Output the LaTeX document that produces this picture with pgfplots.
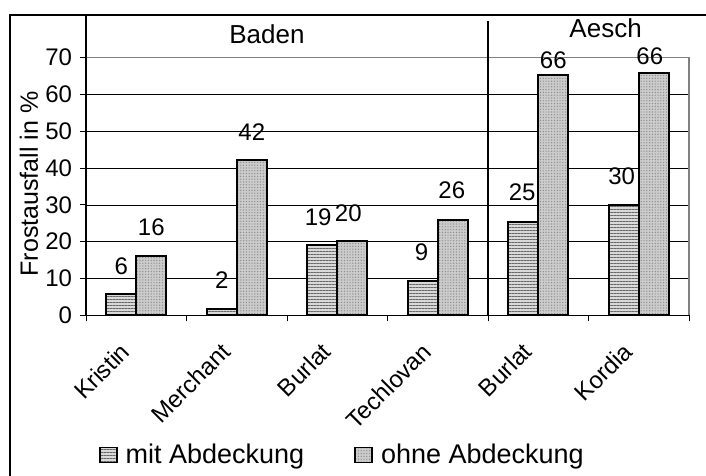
\documentclass[border=0pt]{standalone}
\usepackage{pgfplots}
\pgfplotsset{compat=1.18}
\usepackage{pgfplotstable}
\usepackage{fontspec}
\setmainfont{Liberation Sans}
\usetikzlibrary{patterns.meta}

\pgfplotstableread{
x mit ohne
0 5.8 16.2
1 1.7 42.2
2 19.0 20.2
3 9.3 25.9
4 25.4 65.3
5 30.0 65.9
}\frostdata

\pgfplotstableread{
x y label
-0.15 13.4 6
0.15 24.0 16
0.85 9.6 2
1.15 49.8 42
1.81 26.7 19
2.11 27.8 20
2.84 17.2 9
3.14 34.0 26
3.84 33.5 25
4.15 69.4 66
4.83 37.9 30
5.11 70.5 66
}\labeldata

\begin{document}
\begin{tikzpicture}
\useasboundingbox (0,0) rectangle (353bp,238bp);
\draw[line width=0.8bp] (5bp,0) -- (5bp,230.5bp) -- (353bp,230.5bp);
\begin{axis}[
  at={(43bp,80.35bp)}, anchor=south west,
  scale only axis, width=301.5bp, height=128.8bp,
  xmin=-0.5, xmax=5.5, ymin=0, ymax=70,
  clip=false,
  axis x line*=bottom, axis y line*=left,
  axis line style={line width=0.7bp, -},
  xtick={0,...,5},
  xticklabels={Kristin,Merchant,Burlat,Techlovan,Burlat,Kordia},
  minor xtick={-0.5,0.5,...,5.5},
  every major x tick/.style={draw=none},
  ytick={0,10,...,70},
  tick align=outside, major tick length=3bp, minor tick length=3bp,
  tick style={black, line width=0.5bp},
  ymajorgrids, grid style={black, line width=0.4bp},
  /pgf/number format/assume math mode=true,
  ticklabel style={font=\fontsize{12bp}{14bp}\selectfont},
  yticklabel style={xshift=-0.5bp},
  xticklabel style={rotate=45, anchor=north east, inner sep=0pt, xshift=-13bp, yshift=-0.8bp, font=\fontsize{12bp}{14bp}\selectfont},
  ylabel={Frostausfall in \%},
  ylabel style={at={(axis description cs:-0.0945,0.51)}, anchor=center, rotate=0, font=\fontsize{12.5bp}{14bp}\selectfont},
  legend columns=2,
  legend style={draw=none, fill=none, at={(axis description cs:0.425,-0.542)}, anchor=center,
    font=\fontsize{13.5bp}{16bp}\selectfont,
    /tikz/every even column/.append style={column sep=24bp},
    nodes={inner xsep=1bp}},
  legend image code/.code={\draw[#1] (0bp,-3.75bp) rectangle (8.5bp,3.75bp); \path (11.5bp,0bp);},
]
\addplot[ybar, bar width=15bp, bar shift=-7.5bp, draw=black, line width=0.9bp, fill=black!15,
  postaction={pattern={Lines[angle=0,distance=1.5bp,line width=0.5bp]}, pattern color=black!60}]
  table[x=x, y=mit] {\frostdata};
\addlegendentry{mit Abdeckung}
\addplot[ybar, bar width=15bp, bar shift=7.5bp, draw=black, line width=0.9bp, fill=black!20,
  postaction={pattern={Dots[distance=1.4bp,radius=0.35bp]}, pattern color=black!45}]
  table[x=x, y=ohne] {\frostdata};
\addlegendentry{ohne Abdeckung}
\addplot[forget plot, only marks, mark=none, nodes near coords, point meta=explicit symbolic,
  nodes near coords style={anchor=center, inner sep=0pt, font=\fontsize{12bp}{14bp}\selectfont}]
  table[x=x, y=y, meta=label] {\labeldata};
\draw[gray, line width=0.6bp] (rel axis cs:0,1) -- (rel axis cs:1,1) -- (rel axis cs:1,0);
\draw[line width=0.7bp] (axis cs:-0.5,70) -- (axis cs:-0.5,81.6);
\draw[line width=0.7bp] (axis cs:3.5,0) -- (axis cs:3.5,80);
\node[font=\fontsize{13bp}{15bp}\selectfont] at (axis cs:1.3,76.4) {Baden};
\node[font=\fontsize{13bp}{15bp}\selectfont] at (axis cs:4.67,78.1) {Aesch};
\end{axis}
\end{tikzpicture}
\end{document}
